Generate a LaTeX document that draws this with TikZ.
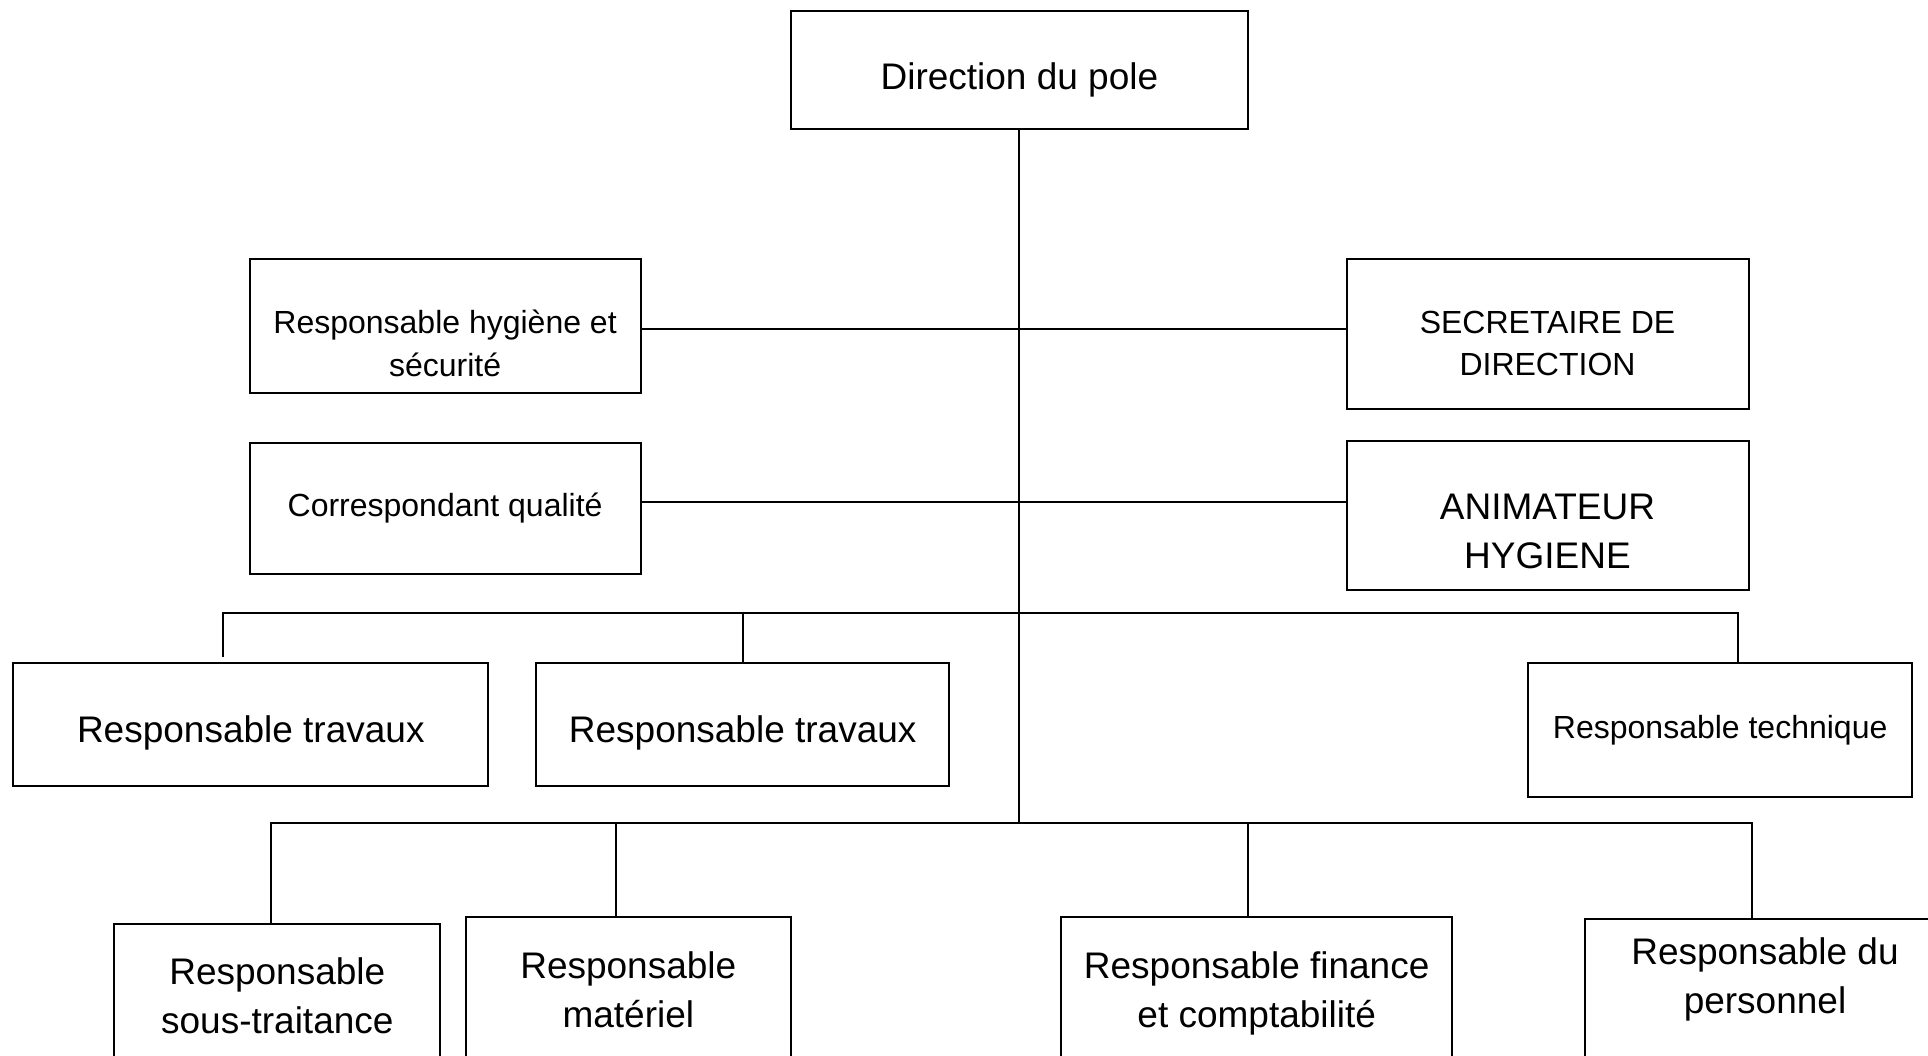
\documentclass[tikz,border=0pt]{standalone}
\usepackage{fontspec}
\setmainfont{Liberation Sans}
\usepackage{tikz}

% lower a line of text without changing the size of its box
\newcommand{\shiftdown}[2]{\raisebox{-#1}[\height][\depth]{#2}}

\tikzset{
  box/.style={draw, line width=2pt, align=center, inner sep=0pt},
  big/.style={font=\fontsize{37}{49}\selectfont},
  small/.style={font=\fontsize{32}{42.5}\selectfont},
  lowbox/.style={box, big, anchor=north, text depth=200pt},
  link/.style={line width=2pt}
}

\begin{document}
\begin{tikzpicture}[x=1pt, y=-1pt]

      \useasboundingbox (0,0) rectangle (1928,1056);
      \clip (0,0) rectangle (1928,1056);

      % The head of the pole.
      \node [box, big, minimum width=457.5pt, minimum height=118pt] (dir)
      at (1019.4,70) {\shiftdown{10pt}{Direction du pole}};

      % Staff boxes on both sides of the trunk.
      \node [box, small, minimum width=391pt, minimum height=134pt] (hyg)
      at (445.1,326.5) {\shiftdown{17pt}{Responsable hygi\`ene et}\\
        \shiftdown{17pt}{s\'ecurit\'e}};
      \node [box, small, minimum width=402pt, minimum height=150pt] (sec)
      at (1547.5,334.5) {\shiftdown{9pt}{SECRETAIRE DE}\\
        \shiftdown{9pt}{DIRECTION}};
      \node [box, small, minimum width=391pt, minimum height=131.5pt] (qual)
      at (445.1,508.5) {Correspondant qualit\'e};
      \node [box, big, minimum width=402pt, minimum height=149pt] (anim)
      at (1547.5,515.8) {\shiftdown{16pt}{ANIMATEUR}\\
        \shiftdown{16pt}{HYGIENE}};

      % The first row of managers.
      \node [box, big, minimum width=474.7pt, minimum height=123pt] (trav1)
      at (250.8,724.2) {\shiftdown{9pt}{Responsable travaux}};
      \node [box, big, minimum width=413.2pt, minimum height=123pt] (trav2)
      at (742.7,724.2) {\shiftdown{9pt}{Responsable travaux}};
      \node [box, small, minimum width=383.6pt, minimum height=134pt] (tech)
      at (1720.2,729.8) {Responsable technique};

      % The second row of managers, cut by the lower edge.
      \node [lowbox, minimum width=325.8pt, inner ysep=33pt] (st)
      at (277.3,923.4) {Responsable\\sous-traitance};
      \node [lowbox, minimum width=324.6pt, inner ysep=35pt] (mat)
      at (628.3,916) {Responsable\\mat\'eriel};
      \node [lowbox, minimum width=391.1pt, inner ysep=35pt] (fin)
      at (1256.7,916) {Responsable finance\\et comptabilit\'e};
      \node [lowbox, minimum width=360pt, inner ysep=19pt] (pers)
      at (1765,917.7) {Responsable du\\personnel};

      % Junctions on the two buses.
      \coordinate (b1l) at (222.6,613.3);
      \coordinate (b1r) at (1737.5,613.3);
      \coordinate (b2l) at (270.5,822.6);
      \coordinate (b2m) at (616,822.6);
      \coordinate (b2f) at (1248,822.6);
      \coordinate (b2r) at (1752.2,822.6);

      % The trunk and the side links.
      \draw [link] (dir.south) -- (dir.south |- b2l);
      \draw [link] ([yshift=-3pt]hyg.east) -- ([yshift=-3pt]hyg.east -| sec.west);
      \draw [link] ([yshift=7pt]qual.east) -- ([yshift=7pt]qual.east -| anim.west);

      % Upper bus.
      \draw [link] ([yshift=5pt]trav1.north -| b1l) -- (b1l) -- (b1r)
      -- (b1r |- tech.north);
      \draw [link] (trav2.north) -- (trav2.north |- b1l);

      % Lower bus.
      \draw [link] (st.north -| b2l) -- (b2l) -- (b2r) -- (pers.north -| b2r);
      \draw [link] (b2m) -- (b2m |- mat.north);
      \draw [link] (b2f) -- (b2f |- fin.north);
    \end{tikzpicture}
\end{document}
